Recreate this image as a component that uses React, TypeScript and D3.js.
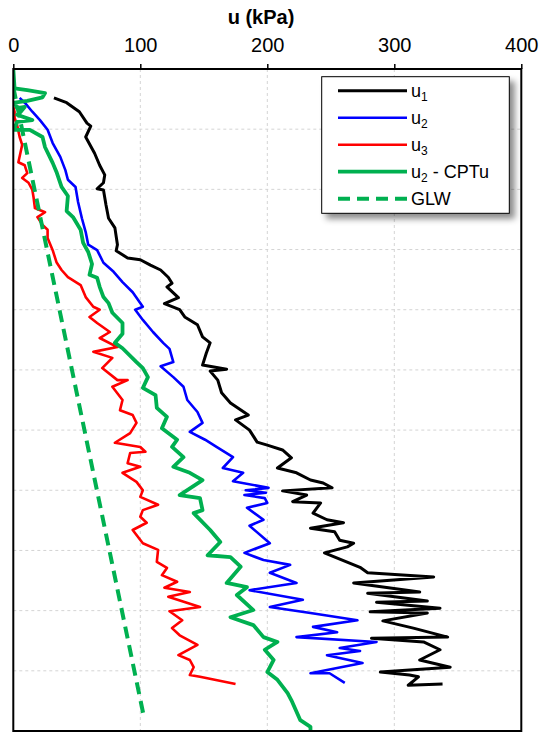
import { useEffect, useRef } from 'react'
import { select, scaleLinear, line, axisTop } from 'd3'

// top axis ticks (kPa) and depth grid (m)
const uTicks = [0, 100, 200, 300, 400]
const depthTicks = [1, 2, 3, 4, 5, 6, 7, 8, 9, 10]

// u1
const u1Depth = [0.48, 0.56, 0.71, 0.9, 0.95, 1.13, 1.4, 1.6, 1.76, 1.89, 1.99, 2.01, 2.26, 2.48, 2.64, 2.92, 3.02, 3.14, 3.17, 3.26, 3.34, 3.46, 3.56, 3.62, 3.8, 3.9, 4.0, 4.12, 4.25, 4.45, 4.55, 4.72, 4.92, 4.99, 5.02, 5.17, 5.38, 5.55, 5.75, 5.83, 6.0, 6.2, 6.25, 6.33, 6.46, 6.63, 6.71, 6.83, 6.88, 6.96, 7.01, 7.08, 7.19, 7.21, 7.38, 7.49, 7.54, 7.63, 7.69, 7.83, 7.88, 7.94, 8.04, 8.28, 8.37, 8.44, 8.54, 8.69, 8.71, 8.84, 8.86, 8.96, 9.02, 9.04, 9.17, 9.29, 9.44, 9.46, 9.52, 9.65, 9.82, 9.94, 10.02, 10.07, 10.1, 10.24, 10.22]
const u1 = [32, 42, 52, 58, 61, 57, 64, 68, 72, 71, 66, 71, 73, 75, 80, 82, 81, 90, 100, 108, 116, 122, 125, 121, 130, 119, 131, 135, 145, 149, 155, 152, 149, 168, 155, 161, 164, 171, 185, 175, 186, 192, 200, 212, 219, 208, 223, 234, 244, 251, 212, 231, 220, 242, 236, 247, 260, 234, 253, 257, 268, 263, 245, 273, 279, 331, 268, 320, 279, 326, 286, 336, 281, 326, 291, 315, 342, 282, 323, 336, 320, 344, 289, 312, 319, 311, 338]

// u2
const u2Depth = [0.48, 0.56, 0.71, 0.85, 1.01, 1.23, 1.46, 1.68, 1.84, 1.96, 2.21, 2.48, 2.71, 2.92, 3.01, 3.22, 3.37, 3.54, 3.71, 3.95, 4.0, 4.17, 4.37, 4.55, 4.65, 4.87, 4.94, 5.12, 5.28, 5.5, 5.7, 5.88, 6.03, 6.16, 6.28, 6.45, 6.63, 6.71, 6.85, 6.96, 7.0, 7.04, 7.08, 7.13, 7.21, 7.29, 7.49, 7.59, 7.88, 8.04, 8.16, 8.24, 8.37, 8.54, 8.66, 8.82, 8.94, 9.04, 9.16, 9.27, 9.36, 9.44, 9.52, 9.62, 9.67, 9.74, 9.87, 10.04, 10.04, 10.2]
const u2 = [5, 9, 15, 21, 27, 31, 37, 41, 43, 49, 51, 54, 57, 59, 66, 71, 79, 86, 94, 102, 96, 102, 110, 118, 123, 126, 116, 126, 134, 137, 145, 149, 139, 151, 160, 173, 165, 181, 173, 201, 183, 199, 182, 198, 200, 184, 197, 186, 202, 182, 197, 218, 202, 223, 186, 228, 202, 234, 271, 236, 255, 223, 286, 257, 273, 247, 275, 234, 249, 261]

// u3
const u3Depth = [0.63, 0.71, 0.81, 0.93, 1.13, 1.26, 1.55, 1.6, 1.73, 1.81, 1.89, 2.01, 2.14, 2.31, 2.38, 2.46, 2.59, 2.67, 2.81, 3.01, 3.21, 3.34, 3.46, 3.59, 3.79, 3.95, 4.0, 4.12, 4.22, 4.37, 4.47, 4.62, 4.7, 4.8, 4.97, 5.17, 5.17, 5.28, 5.5, 5.67, 5.75, 5.88, 6.05, 6.21, 6.28, 6.36, 6.38, 6.55, 6.61, 6.71, 6.86, 7.0, 7.11, 7.24, 7.33, 7.44, 7.54, 7.66, 7.88, 7.99, 8.19, 8.29, 8.41, 8.52, 8.62, 8.69, 8.77, 8.94, 9.01, 9.16, 9.29, 9.41, 9.57, 9.74, 9.82, 9.94, 10.07, 10.1, 10.22]
const u3 = [0, 1, 1, 3, 5, 7, 4, 9, 11, 7, 12, 15, 16, 17, 25, 19, 23, 27, 27, 31, 34, 38, 43, 53, 57, 63, 68, 60, 66, 76, 68, 82, 63, 78, 70, 82, 90, 78, 86, 84, 94, 97, 92, 80, 100, 104, 92, 90, 100, 86, 97, 102, 100, 114, 102, 100, 105, 94, 102, 114, 113, 121, 117, 129, 119, 139, 122, 147, 123, 133, 125, 131, 145, 130, 139, 142, 139, 147, 175]

// u2 - CPTu
const cptDepth = [0, 0.32, 0.35, 0.4, 0.47, 0.53, 0.56, 0.65, 0.63, 0.73, 0.76, 0.85, 0.88, 0.98, 1.01, 1.01, 1.13, 1.3, 1.56, 1.71, 1.96, 2.11, 2.36, 2.46, 2.67, 2.89, 3.04, 3.24, 3.42, 3.47, 3.62, 3.79, 3.89, 4.05, 4.22, 4.4, 4.55, 4.64, 4.87, 4.97, 5.12, 5.3, 5.42, 5.63, 5.78, 5.97, 6.16, 6.28, 6.45, 6.61, 6.71, 6.83, 7.08, 7.13, 7.33, 7.38, 7.66, 7.86, 8.08, 8.11, 8.27, 8.54, 8.61, 8.74, 8.99, 9.11, 9.24, 9.44, 9.52, 9.65, 9.82, 10.02, 10.15, 10.37, 10.49, 10.82, 10.93, 11.0]
const cpt = [0, 1, 11, 25, 23, 11, 1, 3, 9, 5, 3, 15, 3, 1, 1, 13, 23, 25, 31, 34, 38, 43, 42, 47, 53, 55, 59, 62, 60, 66, 68, 71, 75, 78, 86, 86, 80, 86, 97, 102, 106, 102, 112, 113, 121, 117, 129, 125, 134, 126, 139, 149, 131, 147, 149, 142, 155, 163, 153, 171, 179, 168, 184, 176, 189, 171, 189, 197, 208, 198, 205, 200, 208, 216, 219, 226, 234, 234]

// GLW
const glwDepth = [0.3, 10.73]
const glw = [0, 102.5]

const series = [
  { name: 'u1', sub: '1', label: 'u', rest: '', depth: u1Depth, values: u1, color: '#000000', width: 3, dash: null },
  { name: 'u2', sub: '2', label: 'u', rest: '', depth: u2Depth, values: u2, color: '#0000ff', width: 2.6, dash: null },
  { name: 'u3', sub: '3', label: 'u', rest: '', depth: u3Depth, values: u3, color: '#ff0000', width: 2.6, dash: null },
  { name: 'cpt', sub: '2', label: 'u', rest: ' - CPTu', depth: cptDepth, values: cpt, color: '#00b050', width: 3.8, dash: null },
  { name: 'glw', sub: '', label: 'GLW', rest: '', depth: glwDepth, values: glw, color: '#00b050', width: 4, dash: '12,7' }
]

const FONT = '"Liberation Sans", Arial, sans-serif'

export default function App() {
  const svgRef = useRef(null)

  useEffect(() => {
    const svg = select(svgRef.current)
    svg.selectAll('*').remove()

    const x = scaleLinear([0, 400], [13.3, 521.3])
    const y = scaleLinear([0, 11], [69, 731])

    const defs = svg.append('defs')
    defs.append('clipPath').attr('id', 'plot-clip')
      .append('rect')
      .attr('x', x(0)).attr('y', y(0))
      .attr('width', x(400) - x(0)).attr('height', y(11) - y(0))
    const shadow = defs.append('filter').attr('id', 'legend-shadow')
      .attr('x', '-10%').attr('y', '-10%').attr('width', '130%').attr('height', '130%')
    shadow.append('feDropShadow')
      .attr('dx', 5).attr('dy', 5).attr('stdDeviation', 3)
      .attr('flood-color', '#000').attr('flood-opacity', 0.45)

    // grid
    svg.append('g')
      .selectAll('line')
      .data(uTicks.slice(1, -1))
      .join('line')
      .attr('x1', d => x(d)).attr('x2', d => x(d))
      .attr('y1', y(0)).attr('y2', y(11))
      .attr('stroke', '#d4d4d4').attr('stroke-dasharray', '3,3')
    svg.append('g')
      .selectAll('line')
      .data(depthTicks)
      .join('line')
      .attr('x1', x(0)).attr('x2', x(400))
      .attr('y1', d => y(d)).attr('y2', d => y(d))
      .attr('stroke', '#d4d4d4').attr('stroke-dasharray', '3,3')

    // series
    const plot = svg.append('g').attr('clip-path', 'url(#plot-clip)')
    series.forEach(s => {
      const gen = line<number>()
        .x(d => x(d))
        .y((_, i) => y(s.depth[i]))
      plot.append('path')
        .datum(s.values)
        .attr('d', gen)
        .attr('fill', 'none')
        .attr('stroke', s.color)
        .attr('stroke-width', s.width)
        .attr('stroke-linejoin', 'round')
        .attr('stroke-dasharray', s.dash)
    })

    // frame
    svg.append('rect')
      .attr('x', x(0)).attr('y', y(0))
      .attr('width', x(400) - x(0)).attr('height', y(11) - y(0))
      .attr('fill', 'none').attr('stroke', '#000').attr('stroke-width', 2)

    // top axis
    const xAxis = axisTop(x).tickValues(uTicks).tickSize(5).tickPadding(12)
    const ax = svg.append('g')
      .attr('transform', `translate(0,${y(0)})`)
      .call(xAxis)
    ax.select('.domain').remove()
    ax.selectAll('.tick line').attr('stroke', '#000').attr('stroke-width', 1.5)
    ax.selectAll('.tick text')
      .attr('fill', '#000')
      .style('font-family', FONT)
      .style('font-size', '20px')

    svg.append('text')
      .attr('x', 261).attr('y', 24)
      .attr('text-anchor', 'middle')
      .style('font-family', FONT)
      .style('font-size', '20px')
      .style('font-weight', 'bold')
      .text('u (kPa)')

    // legend
    const legend = svg.append('g')
    legend.append('rect')
      .attr('x', 321.7).attr('y', 76.7)
      .attr('width', 187.6).attr('height', 136.6)
      .attr('fill', '#fff').attr('stroke', '#000').attr('stroke-width', 1)
      .attr('filter', 'url(#legend-shadow)')
    series.forEach((s, i) => {
      const ly = 90.7 + i * 27
      legend.append('line')
        .attr('x1', 338).attr('x2', 407)
        .attr('y1', ly).attr('y2', ly)
        .attr('stroke', s.color)
        .attr('stroke-width', s.width)
        .attr('stroke-dasharray', s.dash)
      const t = legend.append('text')
        .attr('x', 411).attr('y', ly + 6)
        .style('font-family', FONT)
        .style('font-size', '18px')
      t.append('tspan').text(s.label)
      if (s.sub) {
        t.append('tspan').attr('dy', 4).style('font-size', '12px').text(s.sub)
        if (s.rest) t.append('tspan').attr('dy', -4).text(s.rest)
      }
    })
  }, [])

  return (
    <svg
      ref={svgRef}
      width={541}
      height={735}
      style={{ position: 'absolute', left: 0, top: 0, background: '#fff' }}
    />
  )
}
